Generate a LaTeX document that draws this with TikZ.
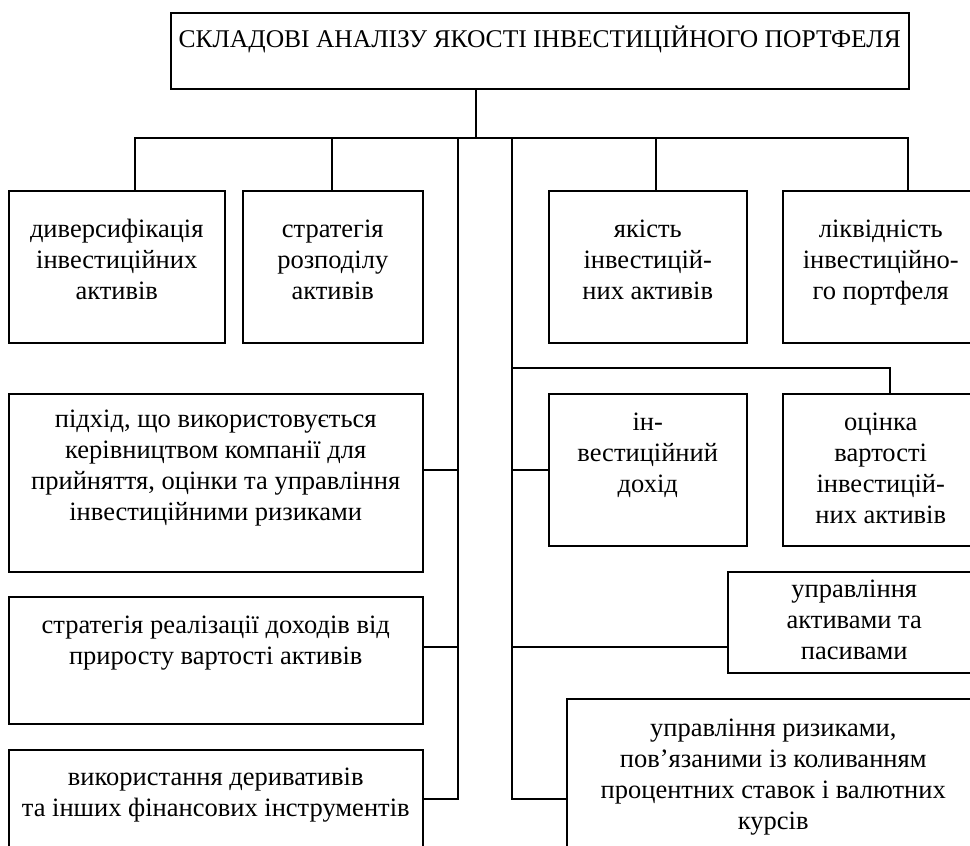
\documentclass[tikz,border=0pt]{standalone}
\usepackage{fontspec}
\setmainfont{Liberation Serif}
\usepackage{tikz}
\newcommand{\cell}[4]{\parbox[t][#2][t]{#1}{\centering\rule{0pt}{#3}#4}}

\begin{document}
\begin{tikzpicture}[x=1pt,y=-1pt,line width=1.5pt,line cap=rect,
    every node/.style={font=\fontsize{26.5}{31}\selectfont},
    blk/.style={draw,anchor=north west,inner sep=0pt}]
    \useasboundingbox (0,0) rectangle (970,846);
    \clip (0,0) rectangle (970,846);

    \node[blk,font=\fontsize{25.5}{31}\selectfont] (0) at (170,12) {\cell{738pt}{76pt}{35pt}{СКЛАДОВІ АНАЛІЗУ ЯКОСТІ ІНВЕСТИЦІЙНОГО ПОРТФЕЛЯ}};

    \node[blk] (1) at (8,190) {\cell{216pt}{152pt}{47pt}{диверсифікація\\інвестиційних\\активів}};
    \node[blk] (2) at (242,190) {\cell{180pt}{152pt}{47pt}{стратегія\\розподілу\\активів}};
    \node[blk] (3) at (548,190) {\cell{198pt}{152pt}{47pt}{якість\\інвестицій-\\них активів}};
    \node[blk] (4) at (782,190) {\cell{196pt}{152pt}{47pt}{ліквідність\\інвестиційно-\\го портфеля}};

    \node[blk] (5) at (8,393) {\cell{414pt}{178pt}{34pt}{підхід, що використовується\\керівництвом компанії для\\прийняття, оцінки та управління\\інвестиційними ризиками}};
    \node[blk] (6) at (8,596) {\cell{414pt}{127pt}{37pt}{стратегія реалізації доходів від\\приросту вартості активів}};
    \node[blk] (7) at (8,749) {\cell{414pt}{120pt}{36pt}{використання деривативів\\та інших фінансових інструментів}};

    \node[blk] (8) at (548,393) {\cell{198pt}{152pt}{37pt}{ін-\\вестиційний\\дохід}};
    \node[blk] (9) at (782,393) {\cell{196pt}{152pt}{37pt}{оцінка\\вартості\\інвестицій-\\них активів}};
    \node[blk] (10) at (727,571) {\cell{253pt}{101pt}{26pt}{управління\\активами та\\пасивами}};
    \node[blk] (11) at (566,698) {\cell{413pt}{180pt}{38pt}{управління ризиками,\\пов’язаними із коливанням\\процентних ставок і валютних\\курсів}};

    \coordinate (b) at (476,138);
    \coordinate (c1) at (135,138);
    \coordinate (c2) at (332,138);
    \coordinate (c3) at (656,138);
    \coordinate (c4) at (908,138);
    \coordinate (l) at (458,138);
    \coordinate (l1) at (458,470);
    \coordinate (l2) at (458,647);
    \coordinate (l3) at (458,799);
    \coordinate (r) at (512,138);
    \coordinate (r0) at (512,368);
    \coordinate (s) at (890,368);
    \coordinate (r1) at (512,470);
    \coordinate (r2) at (512,647);
    \coordinate (r3) at (512,799);

    \path[draw]
    (0.south -| b) edge (b)
    (c1) edge (c4)
    (c1) edge (c1 |- 1.north)
    (c2) edge (c2 |- 2.north)
    (c3) edge (c3 |- 3.north)
    (c4) edge (c4 |- 4.north)

    (l) edge (l3)
    (l1) edge (l1 -| 5.east)
    (l2) edge (l2 -| 6.east)
    (l3) edge (l3 -| 7.east)

    (r) edge (r3)
    (r0) edge (s)
    (s) edge (s |- 9.north)
    (r1) edge (r1 -| 8.west)
    (r2) edge (r2 -| 10.west)
    (r3) edge (r3 -| 11.west);
  \end{tikzpicture}
\end{document}
